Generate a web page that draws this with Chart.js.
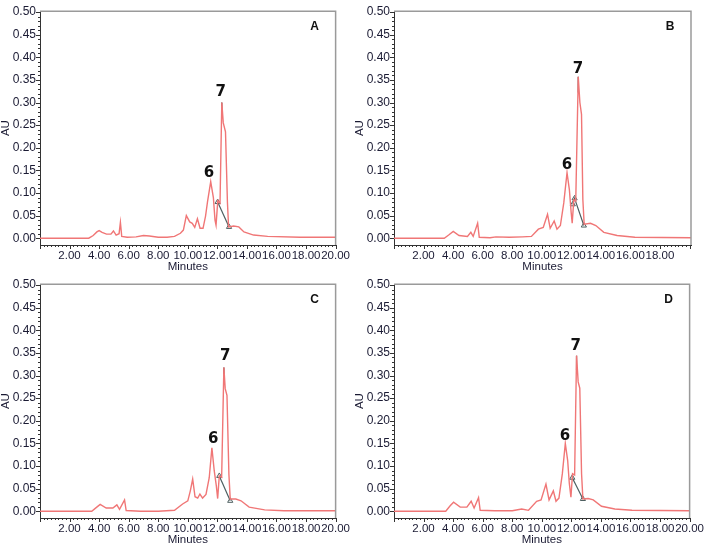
<!DOCTYPE html>
<html>
<head>
<meta charset="utf-8">
<script src="https://cdn.jsdelivr.net/npm/chart.js@4.4.1/dist/chart.umd.min.js"></script>
<style>
  html, body { margin: 0; padding: 0; background: #fff; }
  #wrap { position: relative; width: 708px; height: 546px; }
  canvas { position: absolute; }
</style>
</head>
<body>
<div id="wrap">
  <canvas id="pA" width="354" height="273" style="left:0;top:0"></canvas>
  <canvas id="pB" width="354" height="273" style="left:354px;top:0"></canvas>
  <canvas id="pC" width="354" height="273" style="left:0;top:273px"></canvas>
  <canvas id="pD" width="354" height="273" style="left:354px;top:273px"></canvas>
</div>
<script>
// tick labels
const yTicks = [0, 0.05, 0.10, 0.15, 0.20, 0.25, 0.30, 0.35, 0.40, 0.45, 0.50];
const xTicks = [2, 4, 6, 8, 10, 12, 14, 16, 18, 20];
const xTicksB = [2, 4, 6, 8, 10, 12, 14, 16, 18];

// panel A trace (minutes, AU)
const timeA = [0, 1, 3.3, 3.6, 3.85, 4.0, 4.2, 4.5, 4.8, 4.97, 5.15, 5.35, 5.44, 5.53, 5.9, 6.5, 7.0, 7.4, 8.0, 8.6, 9.1, 9.5, 9.7, 9.9, 10.13, 10.3, 10.47, 10.65, 10.83, 11.03, 11.2, 11.33, 11.55, 11.73, 11.84, 11.91, 12.03, 12.18, 12.3, 12.4, 12.55, 12.68, 12.76, 13.1, 13.45, 13.8, 14.45, 15.4, 17.6, 20];
const auA   = [0, 0, 0, 0.006, 0.014, 0.017, 0.013, 0.009, 0.009, 0.016, 0.007, 0.010, 0.035, 0.004, 0.002, 0.003, 0.006, 0.005, 0.002, 0.002, 0.004, 0.011, 0.018, 0.050, 0.036, 0.033, 0.024, 0.043, 0.022, 0.022, 0.049, 0.080, 0.125, 0.090, 0.040, 0.029, 0.083, 0.078, 0.300, 0.255, 0.235, 0.080, 0.025, 0.027, 0.025, 0.014, 0.007, 0.004, 0.002, 0.002];

// panel B trace
const timeB = [0, 3.4, 3.7, 4.01, 4.4, 4.97, 5.2, 5.36, 5.66, 5.77, 6.5, 6.9, 7.8, 8.7, 9.3, 9.77, 10.1, 10.39, 10.57, 10.84, 11.03, 11.26, 11.49, 11.71, 11.87, 11.99, 12.06, 12.17, 12.3, 12.47, 12.58, 12.69, 12.78, 12.87, 13.3, 13.66, 14.2, 15.1, 16.3, 20.1];
const auB   = [0, 0, 0.007, 0.015, 0.006, 0.004, 0.013, 0.004, 0.033, 0.002, 0.001, 0.003, 0.002, 0.003, 0.004, 0.020, 0.024, 0.053, 0.022, 0.038, 0.020, 0.028, 0.078, 0.145, 0.107, 0.057, 0.033, 0.085, 0.082, 0.357, 0.300, 0.274, 0.086, 0.031, 0.033, 0.028, 0.013, 0.006, 0.002, 0.001];

// panel C trace
const timeC = [0, 3.5, 3.8, 4.07, 4.48, 4.93, 5.2, 5.38, 5.72, 5.83, 6.8, 8.0, 9.1, 9.65, 10.0, 10.17, 10.33, 10.49, 10.67, 10.82, 11.0, 11.23, 11.45, 11.63, 11.79, 11.93, 12.02, 12.13, 12.29, 12.44, 12.53, 12.65, 12.78, 12.87, 13.25, 13.6, 14.15, 15.2, 16.5, 20];
const auC   = [0, 0, 0.008, 0.015, 0.007, 0.007, 0.014, 0.004, 0.025, 0.0015, 0, 0, 0.002, 0.016, 0.023, 0.045, 0.071, 0.032, 0.029, 0.038, 0.029, 0.037, 0.074, 0.140, 0.089, 0.056, 0.028, 0.078, 0.075, 0.318, 0.271, 0.256, 0.082, 0.027, 0.027, 0.023, 0.009, 0.003, 0.001, 0.001];

// panel D trace
const timeD = [0, 3.5, 3.8, 4.03, 4.48, 4.93, 5.22, 5.42, 5.72, 5.83, 6.8, 8.0, 8.64, 9.1, 9.65, 9.95, 10.28, 10.49, 10.78, 10.96, 11.16, 11.39, 11.59, 11.75, 11.86, 11.97, 12.08, 12.22, 12.35, 12.46, 12.57, 12.69, 12.78, 13.14, 13.48, 14.04, 14.94, 16.1, 20];
const auD   = [0, 0, 0.012, 0.020, 0.009, 0.009, 0.022, 0.007, 0.030, 0.002, 0.001, 0.001, 0.005, 0.002, 0.022, 0.025, 0.060, 0.025, 0.045, 0.022, 0.029, 0.083, 0.150, 0.112, 0.062, 0.031, 0.083, 0.080, 0.344, 0.286, 0.272, 0.083, 0.027, 0.028, 0.025, 0.011, 0.005, 0.002, 0.001];

// integration baselines under peak 7
const baseA = [[12.02, 0.080], [12.79, 0.025]];
const baseB = [[12.1, 0.075], [12.22, 0.088], [12.85, 0.028]];
const baseC = [[12.13, 0.078], [12.87, 0.023]];
const baseD = [[12.06, 0.074], [12.78, 0.027]];

// apex marks on peak 7
const apexA = [[12.3, 0.300], [12.3, 0.272]];
const apexB = [[12.47, 0.357], [12.47, 0.322]];
const apexC = [[12.44, 0.318], [12.44, 0.290]];
const apexD = [[12.35, 0.344], [12.35, 0.312]];

// peak numbers: [label, minutes, AU]
const peaksA = [['6', 11.44, 0.143], ['7', 12.22, 0.324]];
const peaksB = [['6', 11.71, 0.162], ['7', 12.45, 0.375]];
const peaksC = [['6', 11.72, 0.160], ['7', 12.53, 0.343]];
const peaksD = [['6', 11.57, 0.167], ['7', 12.29, 0.364]];

const toXY = (t, v) => t.map((x, i) => ({ x: x, y: v[i] }));
const pairs = p => p.map(d => ({ x: d[0], y: d[1] }));

const labelFont = { family: '"Liberation Sans", Arial, sans-serif', size: 12 };
const xLabelFont = { family: '"Liberation Sans", Arial, sans-serif', size: 11.5 };
const titleFont = { family: '"Liberation Sans", Arial, sans-serif', size: 11.5, lineHeight: 1 };
const labelColor = '#1a1a33';

// frame, minor ticks, letters and peak numbers
const decor = {
    id: 'decor',
    afterDraw(chart, args, opts) {
        const ctx = chart.ctx;
        const a = chart.chartArea;
        const xs = chart.scales.x, ys = chart.scales.y;
        ctx.save();
        ctx.strokeStyle = '#9a9a9a';
        ctx.lineWidth = 1.5;
        ctx.beginPath();
        ctx.moveTo(a.left, a.top);
        ctx.lineTo(a.right, a.top);
        ctx.lineTo(a.right, a.bottom);
        ctx.stroke();

        ctx.strokeStyle = '#333';
        ctx.lineWidth = 1;
        ctx.beginPath();
        for (let v = 0; v <= 0.5001; v += 0.01) {
            const y = Math.round(ys.getPixelForValue(v)) + 0.5;
            const major = Math.abs(v * 20 - Math.round(v * 20)) < 1e-6;
            ctx.moveTo(a.left, y);
            ctx.lineTo(a.left - (major ? 4 : 2), y);
        }
        for (let v = 0; v <= xs.max + 1e-6; v += 0.25) {
            const x = Math.round(xs.getPixelForValue(v)) + 0.5;
            const major = Math.abs(v / 2 - Math.round(v / 2)) < 1e-6;
            ctx.moveTo(x, a.bottom);
            ctx.lineTo(x, a.bottom + (major ? 4 : 2));
        }
        ctx.stroke();

        ctx.fillStyle = '#111';
        ctx.font = 'bold 12px "Liberation Sans", Arial, sans-serif';
        ctx.textAlign = 'center';
        ctx.textBaseline = 'middle';
        ctx.fillText(opts.letter, a.right - 21, a.top + 15);

        ctx.font = 'bold 15px "DejaVu Sans", sans-serif';
        opts.peaks.forEach(p => {
            ctx.fillText(p[0], xs.getPixelForValue(p[1]), ys.getPixelForValue(p[2]));
        });
        ctx.restore();
    }
};

function renderPanel(id, letter, time, au, base, apex, peaks, xMax, ticksX) {
    const ctx = document.getElementById(id).getContext('2d');
    new Chart(ctx, {
        type: 'scatter',
        data: {
            datasets: [{
                data: toXY(time, au),
                showLine: true,
                borderColor: '#f07676',
                borderWidth: 1.4,
                pointRadius: 0,
                tension: 0
            }, {
                data: pairs(base),
                showLine: true,
                borderColor: '#4d5f60',
                borderWidth: 1.2,
                pointRadius: 3,
                pointStyle: 'triangle',
                pointBackgroundColor: 'rgba(0,0,0,0)',
                pointBorderColor: '#4d5f60',
                pointBorderWidth: 1
            }, {
                data: pairs(apex),
                showLine: true,
                borderColor: '#333',
                borderWidth: 1.2,
                pointRadius: 0
            }]
        },
        options: {
            responsive: false,
            animation: false,
            devicePixelRatio: 1,
            layout: { padding: { left: 0, right: 17, top: 7, bottom: 0 } },
            plugins: {
                legend: { display: false },
                tooltip: { enabled: false },
                decor: { letter: letter, peaks: peaks }
            },
            scales: {
                x: {
                    type: 'linear',
                    min: 0,
                    max: xMax,
                    afterBuildTicks: s => { s.ticks = ticksX.map(v => ({ value: v })); },
                    afterFit: s => { s.height = 28; },
                    grid: { display: false, drawTicks: false },
                    border: { display: true, color: '#333', width: 1, dash: [1, 1] },
                    ticks: {
                        autoSkip: false,
                        maxRotation: 0,
                        minRotation: 0,
                        padding: 4,
                        color: labelColor,
                        font: xLabelFont,
                        callback: v => v.toFixed(2)
                    },
                    title: {
                        display: true,
                        text: 'Minutes',
                        color: labelColor,
                        padding: { top: 0, bottom: 0 },
                        font: titleFont
                    }
                },
                y: {
                    type: 'linear',
                    min: -0.015,
                    max: 0.502,
                    afterBuildTicks: s => { s.ticks = yTicks.map(v => ({ value: v })); },
                    afterFit: s => { s.width = 40; },
                    grid: { display: false, drawTicks: false },
                    border: { display: true, color: '#333', width: 1, dash: [1, 1] },
                    ticks: {
                        padding: 4,
                        color: labelColor,
                        font: labelFont,
                        callback: v => v.toFixed(2)
                    },
                    title: {
                        display: true,
                        text: 'AU',
                        color: labelColor,
                        padding: { top: 0, bottom: 0 },
                        font: titleFont
                    }
                }
            }
        },
        plugins: [decor]
    });
}

renderPanel('pA', 'A', timeA, auA, baseA, apexA, peaksA, 20, xTicks);
renderPanel('pB', 'B', timeB, auB, baseB, apexB, peaksB, 20.1, xTicksB);
renderPanel('pC', 'C', timeC, auC, baseC, apexC, peaksC, 20, xTicks);
renderPanel('pD', 'D', timeD, auD, baseD, apexD, peaksD, 20, xTicks);
</script>
</body>
</html>
